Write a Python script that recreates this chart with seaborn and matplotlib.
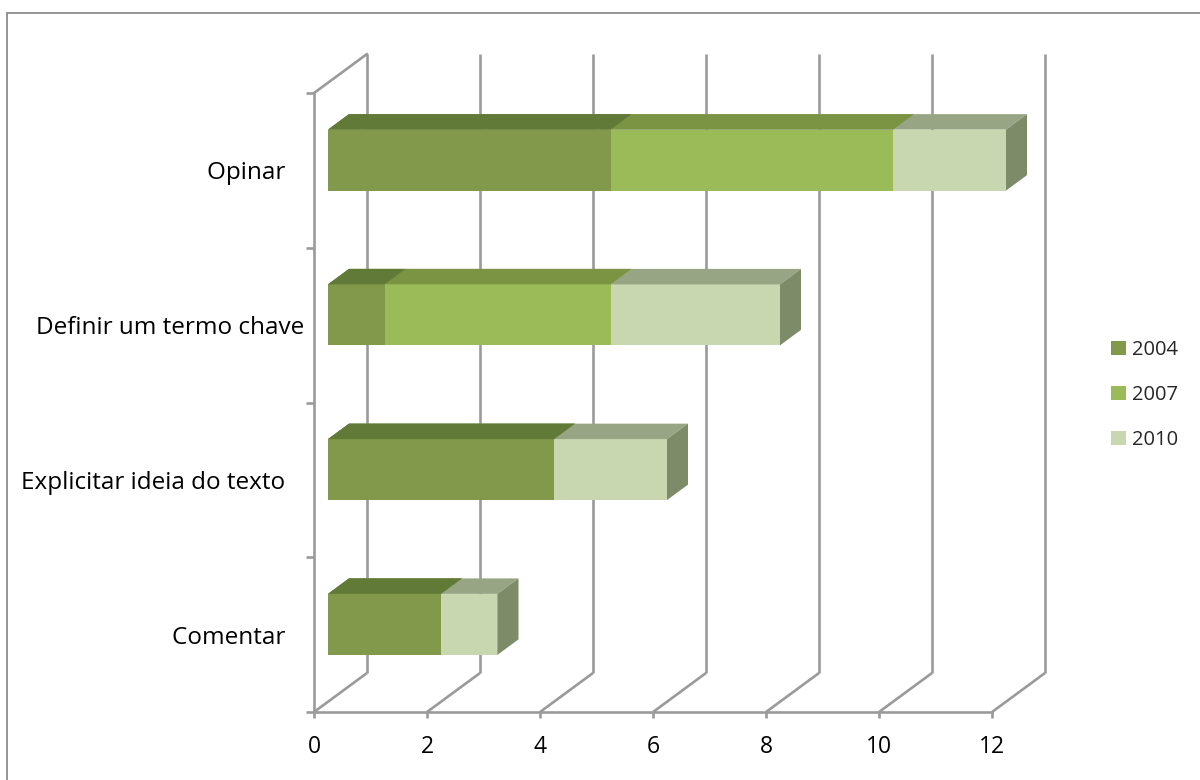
import matplotlib
matplotlib.use("Agg")
import numpy as np
import pandas as pd
import seaborn as sns
import matplotlib.pyplot as plt
import matplotlib.transforms as mtransforms
from matplotlib.patches import Polygon, Rectangle, Patch

# ---------------- data ----------------
categories = ["Opinar   ", "Definir um termo chave", "Explicitar ideia do texto   ", "Comentar   "]
years = ["2004", "2007", "2010"]
v2004 = [5, 1, 4, 2]
v2007 = [5, 4, 0, 0]
v2010 = [2, 3, 2, 1]
xticks = [0, 2, 4, 6, 8, 10, 12]
xticklabels = ["0", "2", "4", "6", "8", "10", "12"]

# ---------------- style ----------------
front_colors = {"2004": "#82994B", "2007": "#9BBB59", "2010": "#C8D7AF"}
top_colors = {"2004": "#617A37", "2007": "#7A9444", "2010": "#97A585"}
side_color = "#7E8B68"
grid_color = "#9A9A9A"
grid_lw = 1.9

sns.set_theme(style="white")
plt.rcParams["font.family"] = ["Open Sans", "DejaVu Sans"]
FS_CAT = 17.5
FS_TICK = 16.5
FS_LEG = 14.5

W, H = 1200, 780
fig = plt.figure(figsize=(W / 100, H / 100), dpi=100, facecolor="white")
ax = fig.add_axes([0, 0, 1, 1])
ax.set_facecolor("white")

df = pd.DataFrame({"cat": categories, "2004": v2004, "2007": v2007, "2010": v2010})
df["c1"] = df["2004"]
df["c2"] = df["2004"] + df["2007"]
df["c3"] = df["c2"] + df["2010"]

# projection geometry (pixel scale of the plot)
PX_PER_UNIT = 56.5
PX_PER_CAT = 154.75
X0_PX = 314.0
C0_PX = 170.4
DX = 53.0 / PX_PER_UNIT        # full depth offset in value units
DY = -39.0 / PX_PER_CAT        # full depth offset in category units (up)
F1 = 14.0 / 53.0               # bar front plane depth fraction
F2 = 35.0 / 53.0               # bar back plane depth fraction
BAR_H = 61.0 / PX_PER_CAT


def proj(v, c, f):
    return (v + f * DX, c + f * DY)


# ---------------- walls / gridlines ----------------
cmin, cmax = -0.5, 3.5
for v in xticks:
    ax.plot([v + DX, v + DX], [cmax + DY, cmin + DY], color=grid_color, lw=grid_lw,
            zorder=1, solid_capstyle="butt")
    ax.plot([v, v + DX], [cmax, cmax + DY], color=grid_color, lw=grid_lw, zorder=1,
            solid_capstyle="butt")
ax.plot([0, DX], [cmin, cmin + DY], color=grid_color, lw=grid_lw, zorder=1)

# ---------------- bars (stacked via cumulative overlays) ----------------
layers = [("c3", "2010"), ("c2", "2007"), ("c1", "2004")]
for k, (col, yr) in enumerate(layers):
    n_before = len(ax.patches)
    sns.barplot(data=df, x=col, y="cat", orient="h", color=front_colors[yr],
                saturation=1, width=BAR_H, errorbar=None, ax=ax, zorder=3 + k,
                linewidth=0)
    new = ax.patches[n_before:]
    for p in new:
        x0, y0, w, h = p.get_x(), p.get_y(), p.get_width(), p.get_height()
        p.set_transform(mtransforms.Affine2D().translate(F1 * DX, F1 * DY) + ax.transData)
        if w <= 0:
            continue
        top = [proj(x0, y0, F1), proj(x0 + w, y0, F1), proj(x0 + w, y0, F2), proj(x0, y0, F2)]
        ax.add_patch(Polygon(top, closed=True, facecolor=top_colors[yr],
                             edgecolor="none", zorder=3 + k))
        if col == "c3":
            side = [proj(x0 + w, y0, F1), proj(x0 + w, y0 + h, F1),
                    proj(x0 + w, y0 + h, F2), proj(x0 + w, y0, F2)]
            ax.add_patch(Polygon(side, closed=True, facecolor=side_color,
                                 edgecolor="none", zorder=3 + k))

# ---------------- axes mapping ----------------
ax.set_xlim(-X0_PX / PX_PER_UNIT, (W - X0_PX) / PX_PER_UNIT)
ax.set_ylim((H - C0_PX) / PX_PER_CAT, -C0_PX / PX_PER_CAT)
ax.set_xlabel("")
ax.set_ylabel("")
ax.grid(False)

for s in ["top", "right"]:
    ax.spines[s].set_visible(False)
for s in ["left", "bottom"]:
    ax.spines[s].set_visible(True)
    ax.spines[s].set_color(grid_color)
    ax.spines[s].set_linewidth(grid_lw)
ax.spines["left"].set_position(("data", 0))
ax.spines["left"].set_bounds(cmin, cmax)
ax.spines["bottom"].set_position(("data", cmax))
ax.spines["bottom"].set_bounds(0, 12)

ax.set_xticks(xticks, labels=xticklabels)
ax.set_yticks([-0.5, 0.5, 1.5, 2.5, 3.5], labels=[""] * 5)
ax.set_yticks([0, 1, 2, 3], labels=categories, minor=True)
ax.tick_params(axis="x", which="major", direction="out", length=4.3, width=grid_lw,
               color=grid_color, pad=12.5, labelsize=FS_TICK, labelcolor="black",
               bottom=True)
ax.tick_params(axis="y", which="major", direction="out", length=5.8, width=grid_lw,
               color=grid_color, left=True)
ax.tick_params(axis="y", which="minor", length=0, pad=7, labelsize=FS_CAT,
               labelcolor="black", left=True)

# ---------------- legend ----------------
handles = [Patch(facecolor=front_colors[y], edgecolor="none") for y in years]
ax.legend(handles, years, loc="center left", bbox_to_anchor=(1111 / W, 1 - 395 / H),
          frameon=False, fontsize=FS_LEG, handlelength=0.72, handleheight=0.72,
          handletextpad=0.3, labelspacing=1.25, borderpad=0, borderaxespad=0)

# ---------------- outer border ----------------
fig.add_artist(Rectangle((6.5 / W, -0.1), 1.2, (H - 13) / H + 0.1,
                         transform=fig.transFigure, fill=False,
                         edgecolor="#8C8C8C", lw=1.3))

fig.savefig("out.png", dpi=100, facecolor="white")
